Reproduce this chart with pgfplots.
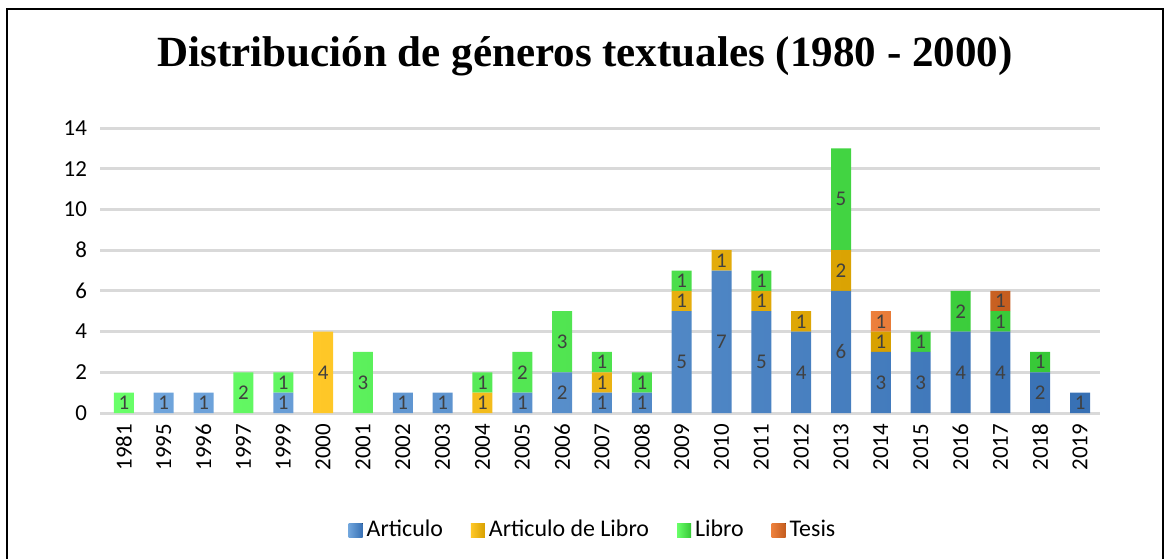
\documentclass[border=0pt]{standalone}
\usepackage{pgfplots}
\pgfplotsset{compat=1.18}
\usepackage{pgfplotstable}
\usepackage{fontspec}
\setmainfont{Carlito}
\newfontfamily\titlefont{Liberation Serif}

\definecolor{artL}{RGB}{112,165,220}
\definecolor{artR}{RGB}{55,112,180}
\definecolor{alL}{RGB}{255,200,40}
\definecolor{alR}{RGB}{215,160,0}
\definecolor{libL}{RGB}{105,255,105}
\definecolor{libR}{RGB}{55,200,55}
\definecolor{tesL}{RGB}{237,128,60}
\definecolor{tesR}{RGB}{195,92,30}
\definecolor{lblgray}{RGB}{64,64,64}

% x: 0=1981 ... 24=2019
\pgfplotstableread{
x  art artl lib tes
0  0   0    1   0
1  1   0    0   0
2  1   0    0   0
3  0   0    2   0
4  1   0    1   0
5  0   4    0   0
6  0   0    3   0
7  1   0    0   0
8  1   0    0   0
9  0   1    1   0
10 1   0    2   0
11 2   0    3   0
12 1   1    1   0
13 1   0    1   0
14 5   1    1   0
15 7   1    0   0
16 5   1    1   0
17 4   1    0   0
18 6   2    5   0
19 3   1    0   1
20 3   0    1   0
21 4   0    2   0
22 4   0    1   1
23 2   0    1   0
24 1   0    0   0
}\generos

% data labels: x, middle of the segment, value
\pgfplotstableread{
x  ymid lab
0  0.5  1
1  0.5  1
2  0.5  1
3  1    2
4  0.5  1
4  1.5  1
5  2    4
6  1.5  3
7  0.5  1
8  0.5  1
9  0.5  1
9  1.5  1
10 0.5  1
10 2    2
11 1    2
11 3.5  3
12 0.5  1
12 1.5  1
12 2.5  1
13 0.5  1
13 1.5  1
14 2.5  5
14 5.5  1
14 6.5  1
15 3.5  7
15 7.5  1
16 2.5  5
16 5.5  1
16 6.5  1
17 2    4
17 4.5  1
18 3    6
18 7    2
18 10.5 5
19 1.5  3
19 3.5  1
19 4.5  1
20 1.5  3
20 3.5  1
21 2    4
21 5    2
22 2    4
22 4.5  1
22 5.5  1
23 1    2
23 2.5  1
24 0.5  1
}\etiquetas

\pgfplotsset{
  marco/.style={
    at={(0,0)}, anchor=south west,
    scale only axis,
    width=500bp, height=142.5bp,
    xmin=-0.6, xmax=24.5,
    ymin=0, ymax=14,
    clip=false,
  }
}

\begin{document}
\begin{tikzpicture}
\begin{axis}[
    marco,
    ybar stacked,
    bar width=10bp,
    ytick={0,2,...,14},
    xtick={0,...,24},
    xticklabels={1981,1995,1996,1997,1999,2000,2001,2002,2003,2004,2005,2006,2007,2008,2009,2010,2011,2012,2013,2014,2015,2016,2017,2018,2019},
    x tick label style={rotate=90, anchor=east, xshift=-2bp},
    yticklabel style={xshift=-3bp},
    tick label style={font=\fontsize{11.5}{13}\selectfont, text=black},
    /pgf/number format/assume math mode=true,
    major tick length=0pt,
    axis line style={draw=none},
    ymajorgrids=true,
    grid style={black!15, line width=1.5bp},
    legend image code/.code={\fill[#1] (0bp,-3.5bp) rectangle (7bp,3.5bp);},
    legend columns=4,
    legend style={at={(0.5,0)}, anchor=center, yshift=-58.5bp, xshift=-3bp,
        draw=none, font=\fontsize{12}{14}\selectfont,
        /tikz/every even column/.append style={column sep=12bp}},
  ]
  \addplot[draw=none, left color=artL, middle color=artL, right color=artR] table[x=x, y=art] {\generos};
  \addplot[draw=none, left color=alL, middle color=alL, right color=alR] table[x=x, y=artl] {\generos};
  \addplot[draw=none, left color=libL, middle color=libL, right color=libR] table[x=x, y=lib] {\generos};
  \addplot[draw=none, left color=tesL, middle color=tesL, right color=tesR] table[x=x, y=tes] {\generos};
  \legend{Articulo, Articulo de Libro, Libro, Tesis}
\end{axis}
\begin{axis}[marco, hide axis]
  \addplot[draw=none, mark=none, nodes near coords, point meta=explicit symbolic,
    every node near coord/.append style={anchor=center, inner sep=0pt,
      font=\fontsize{10.5}{12}\selectfont, text=lblgray}]
    table[x=x, y=ymid, meta=lab] {\etiquetas};
\end{axis}
\node[font=\titlefont\bfseries\fontsize{21.6}{26}\selectfont] at (242.5bp,178.5bp)
  {Distribución de géneros textuales (1980 - 2000)};
\draw[line width=1.2bp] (-46.5bp,-90bp) -- (-46.5bp,202bp) -- (531.5bp,202bp) -- (531.5bp,-90bp);
\pgfresetboundingbox
\useasboundingbox (-50bp,-73bp) rectangle (532.5bp,206.5bp);
\end{tikzpicture}
\end{document}
